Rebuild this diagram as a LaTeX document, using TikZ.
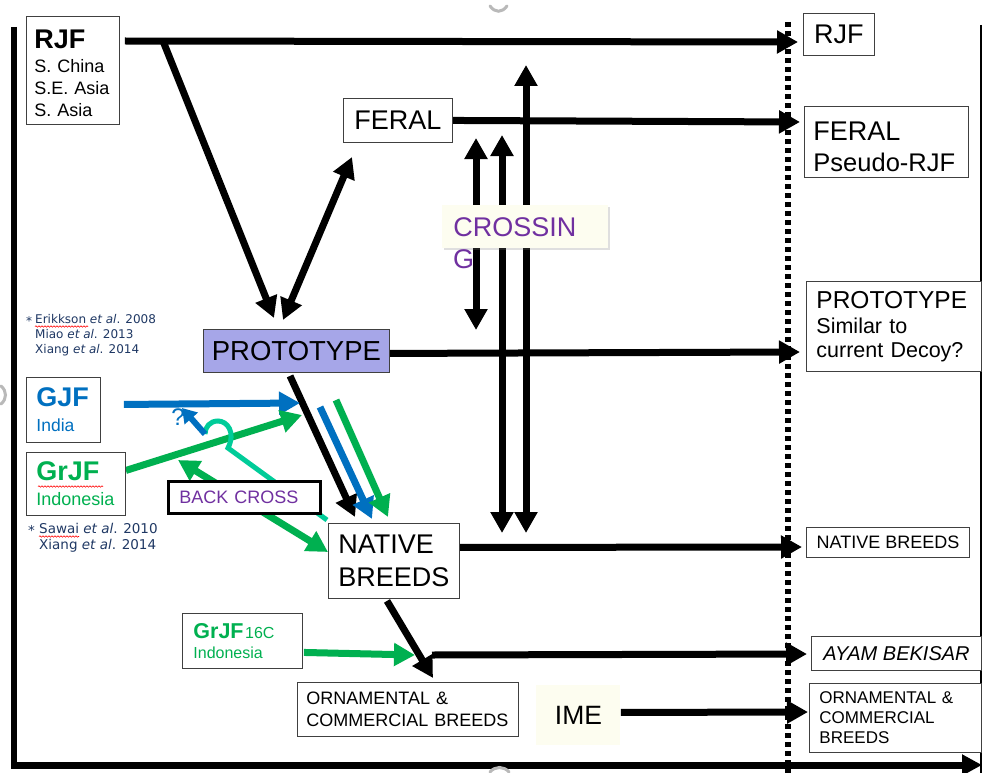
\documentclass[tikz,border=0pt]{standalone}
\usepackage{fontspec}
\setmainfont{Liberation Sans}
\newfontfamily\citefont{DejaVu Sans}
\usetikzlibrary{arrows.meta,shadows,decorations.pathmorphing,calc}
\pgfdeclarelayer{bg}
\pgfsetlayers{bg,main}
\definecolor{cblue}{RGB}{0,112,192}
\definecolor{cgreen}{RGB}{0,176,80}
\definecolor{cteal}{RGB}{0,204,153}
\definecolor{cpurple}{RGB}{112,48,160}
\definecolor{clav}{RGB}{166,166,232}
\definecolor{civory}{RGB}{253,253,240}
\definecolor{cnavy}{RGB}{31,56,100}
\definecolor{cborder}{RGB}{64,64,64}
\newcommand\myfs[2]{\fontsize{#1}{#2}\selectfont}
\tikzset{
  box/.style={draw=cborder, line width=0.9pt, fill=white, inner sep=0pt, anchor=north west},
  lbox/.style={box, align=left},
  arr/.style={line width=7pt, -{Triangle[length=21pt,width=22pt]}},
  darr/.style={line width=7pt, {Triangle[length=21pt,width=22pt]}-{Triangle[length=21pt,width=22pt]}},
  citetext/.style={font=\citefont\myfs{12}{15}, text=cnavy, anchor=base west, inner sep=0pt},
  citetextb/.style={font=\citefont\myfs{13.5}{16.5}, text=cnavy, anchor=base west, inner sep=0pt},
  squig/.style={draw=red, line width=0.6pt, decorate, decoration={snake, amplitude=0.7pt, segment length=3pt}},
  artifact/.style={draw=gray!55, line width=3pt, line cap=round}
}
\begin{document}
\begin{tikzpicture}[x=1pt,y=-1pt]
\useasboundingbox (0,0) rectangle (982,773);

% ---------- boxes ----------
\node[lbox, text width=77pt, inner xsep=8pt, minimum height=108pt, font=\myfs{18}{22}] (rjf) at (26,16)
  {\rule{0pt}{25pt}{\myfs{27}{27}\bfseries RJF}\\[2pt]S.~China\\S.E.~Asia\\S.~Asia};
\node[box, minimum width=109pt, minimum height=44pt, font=\myfs{27}{27}] (feral) at (343,98) {FERAL};
\node[box, draw=none, fill=civory, drop shadow={shadow xshift=1.5pt, shadow yshift=-1.5pt, opacity=0.25},
  minimum height=43pt, text width=144pt, inner xsep=11pt, align=left, font=\myfs{27}{32}, text=cpurple] (cross) at (442,205) {CROSSIN};
\node[anchor=base west, inner sep=0pt, font=\myfs{27}{32}, text=cpurple] (crossG) at (453,268) {G};
\node[box, fill=clav, minimum width=186pt, minimum height=43pt, font=\myfs{27.5}{28}] (proto) at (203,329) {PROTOTYPE};
\node[lbox, text width=54pt, inner xsep=10pt, minimum height=65pt, font=\myfs{17.5}{25}, text=cblue] (gjf) at (26,377)
  {{\myfs{27}{25}\bfseries GJF}\\India};
\node[lbox, text width=79pt, inner xsep=10pt, minimum height=63pt, font=\myfs{18}{25}, text=cgreen] (grjf) at (26,452)
  {{\myfs{27}{25}\bfseries GrJF}\\Indonesia};
\node[lbox, draw=black, line width=2.5pt, text width=130pt, inner xsep=11pt, minimum height=32pt, font=\myfs{18}{18}, text=cpurple] (backcross) at (167,480) {BACK~CROSS};
\node[lbox, text width=111pt, inner xsep=10pt, minimum height=75pt, font=\myfs{27}{33}] (native) at (328,523)
  {NATIVE\\BREEDS};
\node[lbox, text width=98pt, inner xsep=11pt, minimum height=55pt, font=\myfs{16}{20}, text=cgreen] (grjf16) at (182,613)
  {{\myfs{21.5}{20}\bfseries GrJF}\kern1.5pt16C\\Indonesia};
\node[lbox, text width=203pt, inner xsep=9pt, minimum height=54pt, font=\myfs{18}{22}] (ornC) at (297,682)
  {ORNAMENTAL~\&\\COMMERCIAL~BREEDS};
\node[box, draw=none, fill=civory, minimum width=84pt, minimum height=60pt, font=\myfs{26.5}{27}] (ime) at (536,685) {IME};

% right column
\node[box, minimum width=71pt, minimum height=42pt, font=\myfs{27}{27}] (rjfR) at (803,13) {RJF};
\node[lbox, text width=146pt, inner xsep=9pt, minimum height=71pt, font=\myfs{25.5}{31}] (feralR) at (804,106)
  {\rule{0pt}{29pt}{\myfs{27}{31}FERAL}\\Pseudo-RJF};
\node[lbox, text width=155pt, inner xsep=10pt, minimum height=90pt, font=\myfs{21.5}{24}] (protoR) at (806,281)
  {{\myfs{24.5}{24}PROTOTYPE}\\[1pt]Similar~to\\current~Decoy?};
\node[box, minimum width=163pt, minimum height=30pt, font=\myfs{18}{18}] (nativeR) at (806,527) {NATIVE BREEDS};
\node[box, minimum width=170pt, minimum height=34pt, font=\myfs{20}{20}\itshape] (ayam) at (811,636) {AYAM BEKISAR};
\node[lbox, text width=152pt, inner xsep=10pt, minimum height=69pt, font=\myfs{17}{20}] (ornR) at (809,683)
  {ORNAMENTAL~\&\\COMMERCIAL\\BREEDS};

% citations
\node[citetext] (ast1) at (26,325) {*};
\node[citetext] (cit1) at (35,323.5) {Erikkson \textit{et al}. 2008};
\node[citetext] (cit2) at (35,338.5) {Miao \textit{et al}. 2013};
\node[citetext] (cit3) at (35,353.5) {Xiang \textit{et al}. 2014};
\node[citetextb] (ast2) at (28,535) {*};
\node[citetextb] (cit4) at (39,533) {Sawai \textit{et al}. 2010};
\node[citetextb] (cit5) at (39,549.5) {Xiang \textit{et al}. 2014};
\draw[squig] (35,326.5) -- (88,326.5);
\draw[squig] (39,536.5) -- (79,536.5);
\draw[squig] (38,486.5) -- (103,486.5);

\node[font=\myfs{24}{24}, text=cblue, inner sep=0pt] (qmark) at (178,417) {?};

% ---------- connectors (under the boxes) ----------
\begin{pgfonlayer}{bg}
\fill[white] (0,0) rectangle (982,773);
% frame
\draw[line width=6pt] (14,27) -- (14,768);
\draw[line width=1.5pt] (981,25) -- (981,773);
\draw[line width=6pt, dash pattern=on 5pt off 4pt] (788,22) -- (788,773);
\draw[line width=7pt, -{Triangle[length=20pt,width=20pt]}] (11,765) -- (982,765);
% artifacts
\draw[artifact] (490,6) .. controls (495,13) and (502,13) .. (507,6);
\draw[artifact] (490,772) .. controls (495,766) and (504,766) .. (509,772);
\draw[artifact] (1,386) .. controls (7,391) and (7,399) .. (1,404);

\coordinate (jr) at (163,41);
\draw[arr] ([xshift=5pt,yshift=-25pt]rjf.north east) -- ([xshift=-5pt,yshift=-29pt]rjfR.north west);
\draw[arr] (jr) -- ([xshift=71pt,yshift=11pt]proto.north west);
\draw[darr] ([xshift=80pt,yshift=9pt]proto.north west) -- ([xshift=9pt,yshift=-59pt]feral.north west);
\draw[arr] (feral.east) -- ([xshift=-4pt,yshift=-16pt]feralR.north west);

\coordinate (v1t) at (476,138); \coordinate (v1b) at (476,330);
\coordinate (v2t) at (502,135); \coordinate (v2b) at (502,533);
\coordinate (v3t) at (526,65);  \coordinate (v3b) at (526,533);
\draw[darr] (v1t) -- (v1b);
\draw[darr] (v2t) -- (v2b);
\draw[darr] (v3t) -- (v3b);

\draw[arr] ([yshift=-2.5pt]proto.east) -- ([xshift=-6pt,yshift=-71pt]protoR.north west);
\draw[arr] ([xshift=87pt,yshift=-3pt]proto.south west) -- ([xshift=27pt,yshift=6pt]native.north west);
\coordinate (pb) at (320,407);
\coordinate (pg) at (336,400);
\draw[arr, cblue] (pb) -- ([xshift=44pt,yshift=4pt]native.north west);
\draw[arr, cgreen] (pg) -- ([xshift=60pt,yshift=6pt]native.north west);

\draw[arr, cblue] ([xshift=23pt,yshift=5.5pt]gjf.east) -- ([xshift=97pt,yshift=-74pt]proto.north west);
\draw[arr, cgreen] ([yshift=13.5pt]grjf.east) -- ([xshift=99pt,yshift=-86pt]proto.north west);
\draw[darr, cgreen] ([xshift=11pt,yshift=20pt]backcross.north west) -- ([yshift=-29pt]native.north west);

\coordinate (hopA) at (228,448);
\coordinate (hopB) at (205,434);
\coordinate (qtip) at (182,408);
\draw[cteal, line width=5pt] ([xshift=-1pt,yshift=3pt]native.north west) -- (hopA)
   .. controls (236,432) and (227,421) .. (218,421) .. controls (210,421) and (205,427) .. (hopB);
\draw[cblue, line width=6pt, -{Triangle[length=14pt,width=17pt]}] (hopB) -- (qtip);

\draw[arr] ([yshift=13.5pt]native.east) -- ([xshift=-4pt,yshift=-20pt]nativeR.north west);
\draw[arr] ([xshift=59pt,yshift=-2pt]native.south west) -- ([xshift=136pt,yshift=4pt]ornC.north west);
\coordinate (jn) at (415,655);
\coordinate (jo) at (432,655);
\draw[arr, cgreen] ([xshift=1pt,yshift=-11.5pt]grjf16.east) -- (jn);
\draw[arr] (jo) -- ([xshift=-4pt,yshift=-18pt]ayam.north west);
\draw[arr] ([yshift=3pt]ime.east) -- ([xshift=-1pt,yshift=-29pt]ornR.north west);
\end{pgfonlayer}
\end{tikzpicture}
\end{document}
